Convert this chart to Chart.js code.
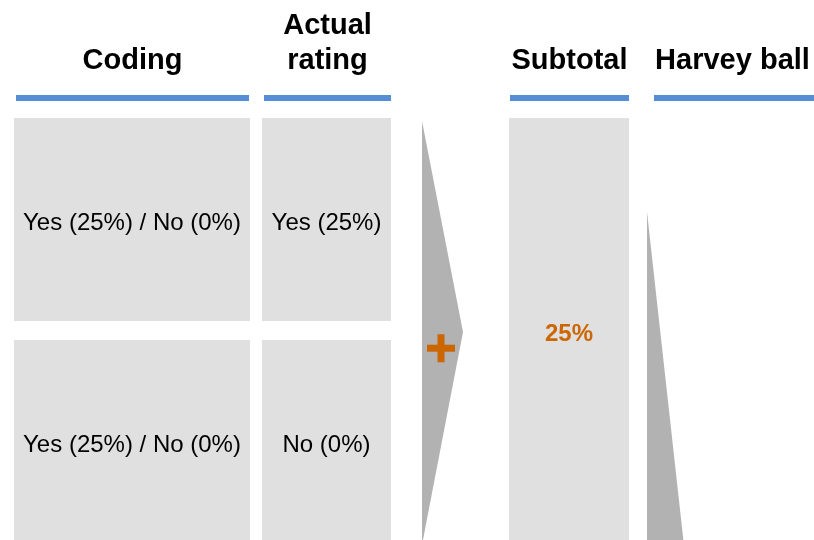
<!DOCTYPE html>
<html>
<head>
<meta charset="utf-8">
<script src="https://cdn.jsdelivr.net/npm/chart.js@4/dist/chart.umd.min.js"></script>
<style>
  html, body { margin: 0; padding: 0; background: #fff; }
  #wrap { width: 814px; height: 540px; }
</style>
</head>
<body>
<div id="wrap"><canvas id="diagram"></canvas></div>
<script>
// Content of the diagram
const columnHeaders = [['Coding'], ['Actual', 'rating'], ['Subtotal'], ['Harvey ball']];
const codingCells = ['Yes (25%) / No (0%)', 'Yes (25%) / No (0%)'];
const ratingCells = ['Yes (25%)', 'No (0%)'];
const subtotalPercent = 25;

// Layout, in page pixels (y grows downward)
const boxCols = [[14, 250], [262, 391], [509, 629]];
const underlineCols = [[16, 249], [264, 391], [510, 629], [654, 814]];
const boxRows = [[118, 321], [340, 560]];
const subtotalRows = [118, 560];
const headerCenters = [132.5, 327.5, 569.5, 732.5];
const headerBaseline = 69.3;
const headerLineHeight = 35;
const cellBaselines = [230, 452];
const plusCenter = [441, 348.2];

const BLUE = '#558ed5';
const BOX = '#e0e0e0';
const WEDGE = '#b2b2b2';
const ORANGE = '#cc6600';

function rectPoints(xs, ys) {
  return [{x: xs[0], y: ys[1]}, {x: xs[0], y: ys[0]}, {x: xs[1], y: ys[0]}, {x: xs[1], y: ys[1]}];
}

function shapeSet(points, color) {
  return {
    data: points, fill: 'shape', backgroundColor: color,
    borderColor: 'rgba(0,0,0,0)', borderWidth: 1, pointRadius: 0, tension: 0
  };
}

function strokeSet(points, color, width) {
  return {
    data: points, fill: false, borderColor: color, borderWidth: width,
    borderCapStyle: 'butt', pointRadius: 0, tension: 0
  };
}

const datasets = [];

// orange plus sign (first so it is drawn on top)
datasets.push(strokeSet([{x: plusCenter[0] - 14, y: plusCenter[1]}, {x: plusCenter[0] + 14, y: plusCenter[1]}], ORANGE, 7));
datasets.push(strokeSet([{x: plusCenter[0], y: plusCenter[1] - 14}, {x: plusCenter[0], y: plusCenter[1] + 14}], ORANGE, 7));

// header underlines
underlineCols.forEach(c => {
  datasets.push(strokeSet([{x: c[0], y: 98}, {x: c[1], y: 98}], BLUE, 6));
});

// grey boxes for coding and actual rating
codingCells.forEach((t, i) => datasets.push(shapeSet(rectPoints(boxCols[0], boxRows[i]), BOX)));
ratingCells.forEach((t, i) => datasets.push(shapeSet(rectPoints(boxCols[1], boxRows[i]), BOX)));
// subtotal box
datasets.push(shapeSet(rectPoints(boxCols[2], subtotalRows), BOX));

// arrow wedges
datasets.push(shapeSet([{x: 422, y: 545}, {x: 422, y: 121}, {x: 463, y: 332}], WEDGE));
datasets.push(shapeSet([{x: 647, y: 560}, {x: 647, y: 212}, {x: 685.6, y: 560}], WEDGE));

// texts go on top of everything
const textPlugin = {
  id: 'diagramText',
  afterDatasetsDraw(chart) {
    const {ctx, scales: {x, y}} = chart;
    ctx.save();
    ctx.textAlign = 'center';
    ctx.textBaseline = 'alphabetic';

    ctx.fillStyle = '#000';
    ctx.font = 'bold 29px "Liberation Sans", Arial, sans-serif';
    columnHeaders.forEach((lines, i) => {
      lines.forEach((line, k) => {
        const base = headerBaseline - (lines.length - 1 - k) * headerLineHeight;
        ctx.fillText(line, x.getPixelForValue(headerCenters[i]), y.getPixelForValue(base));
      });
    });

    ctx.font = '24px "Liberation Sans", Arial, sans-serif';
    const mid = c => (c[0] + c[1]) / 2;
    codingCells.forEach((t, i) => {
      ctx.fillText(t, x.getPixelForValue(mid(boxCols[0])), y.getPixelForValue(cellBaselines[i]));
    });
    ratingCells.forEach((t, i) => {
      ctx.fillText(t, x.getPixelForValue(mid(boxCols[1])), y.getPixelForValue(cellBaselines[i]));
    });

    ctx.fillStyle = ORANGE;
    ctx.font = 'bold 24px "Liberation Sans", Arial, sans-serif';
    ctx.fillText(subtotalPercent + '%', x.getPixelForValue(569), y.getPixelForValue(341));
    ctx.restore();
  }
};

new Chart(document.getElementById('diagram').getContext('2d'), {
  type: 'line',
  data: { datasets: datasets },
  options: {
    responsive: true,
    maintainAspectRatio: false,
    animation: false,
    layout: { padding: 0 },
    scales: {
      x: { type: 'linear', min: 0, max: 814, display: false },
      y: { type: 'linear', min: 0, max: 540, reverse: true, display: false }
    },
    plugins: {
      legend: { display: false },
      tooltip: { enabled: false }
    }
  },
  plugins: [textPlugin]
});
</script>
</body>
</html>
